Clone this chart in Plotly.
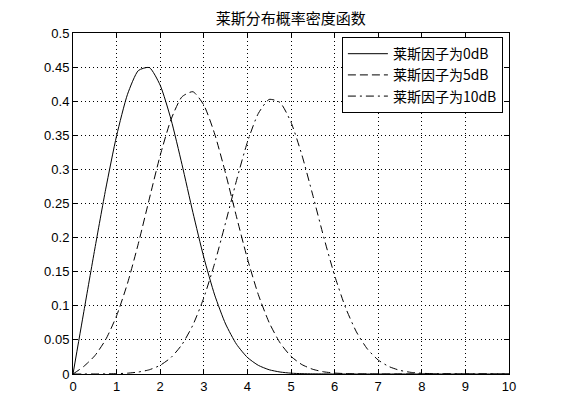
import plotly.graph_objects as go

title_text = "莱斯分布概率密度函数"
names = ["莱斯因子为0dB", "莱斯因子为5dB", "莱斯因子为10dB"]

x_vals = [0, 0.25, 0.5, 0.75, 1, 1.25, 1.5, 1.75, 2, 2.25, 2.5, 2.75, 3, 3.25, 3.5, 3.75,
          4, 4.25, 4.5, 4.75, 5, 5.25, 5.5, 5.75, 6, 6.25, 6.5, 6.75, 7, 7.25, 7.5, 7.75,
          8, 8.25, 8.5, 8.75, 9, 9.25, 9.5, 9.75, 10]

k0db = [0, 0.0920, 0.1833, 0.2711, 0.3494, 0.4101, 0.4450, 0.4494, 0.4234, 0.3729, 0.3072,
        0.2369, 0.1711, 0.1157, 0.0733, 0.0436, 0.0243, 0.0127, 0.0062, 0.0029, 0.0012,
        0.0005, 0.0002, 0.0001, 0, 0, 0, 0, 0, 0, 0, 0, 0, 0, 0, 0, 0, 0, 0, 0, 0]

k5db = [0, 0.0113, 0.0268, 0.0505, 0.0854, 0.1329, 0.1916, 0.2567, 0.3205, 0.3735, 0.4065,
        0.4139, 0.3944, 0.3519, 0.2941, 0.2305, 0.1692, 0.1165, 0.0753, 0.0456, 0.0259,
        0.0138, 0.0069, 0.0032, 0.0014, 0.0006, 0.0002, 0.0001, 0, 0, 0, 0, 0, 0, 0, 0,
        0, 0, 0, 0, 0]

k10db = [0, 0, 0.0001, 0.0002, 0.0005, 0.0012, 0.0029, 0.0062, 0.0128, 0.0243, 0.0432,
         0.0718, 0.1117, 0.1626, 0.2219, 0.2837, 0.3400, 0.3820, 0.4026, 0.3980, 0.3691,
         0.3211, 0.2622, 0.2009, 0.1445, 0.0975, 0.0618, 0.0368, 0.0205, 0.0108, 0.0053,
         0.0024, 0.0011, 0.0004, 0.0002, 0.0001, 0, 0, 0, 0, 0]

x_ticks = [0, 1, 2, 3, 4, 5, 6, 7, 8, 9, 10]
x_tick_text = ["0", "1", "2", "3", "4", "5", "6", "7", "8", "9", "10"]
y_ticks = [0, 0.05, 0.1, 0.15, 0.2, 0.25, 0.3, 0.35, 0.4, 0.45, 0.5]
y_tick_text = ["0", "0.05", "0.1", "0.15", "0.2", "0.25", "0.3", "0.35", "0.4", "0.45", "0.5"]

series = [k0db, k5db, k10db]
dashes = ["solid", "8px,4px", "8px,4px,2px,4px"]

fig = go.Figure()
for name, ys, d in zip(names, series, dashes):
    fig.add_trace(go.Scatter(x=x_vals, y=ys, mode="lines", name=name,
                             line=dict(color="black", width=1, dash=d, shape="spline", smoothing=0.6)))

axis_common = dict(showline=True, linecolor="black", linewidth=1, mirror="ticks",
                   ticks="inside", ticklen=5, tickcolor="black", tickwidth=1,
                   showgrid=True, gridcolor="black", gridwidth=1, griddash="1px,3px",
                   zeroline=False, tickfont=dict(family="Liberation Sans, Arial", size=13, color="black"))

fig.update_xaxes(range=[0, 10], tickvals=x_ticks, ticktext=x_tick_text, **axis_common)
fig.update_yaxes(range=[0, 0.5], tickvals=y_ticks, ticktext=y_tick_text, **axis_common)

fig.update_layout(
    width=545, height=404,
    margin=dict(l=65, r=44, t=25, b=38),
    paper_bgcolor="white", plot_bgcolor="white",
    title=dict(text=title_text, x=0.519, xanchor="center", y=0.974, yanchor="middle",
               font=dict(family="Noto Sans CJK SC", size=15, color="black")),
    legend=dict(x=0.986, xanchor="right", y=0.988, yanchor="top",
                bgcolor="white", bordercolor="black", borderwidth=1,
                font=dict(family="Noto Sans CJK SC", size=14, color="black"),
                itemwidth=40, tracegroupgap=0),
    showlegend=True,
)

fig.write_html("out.html")
